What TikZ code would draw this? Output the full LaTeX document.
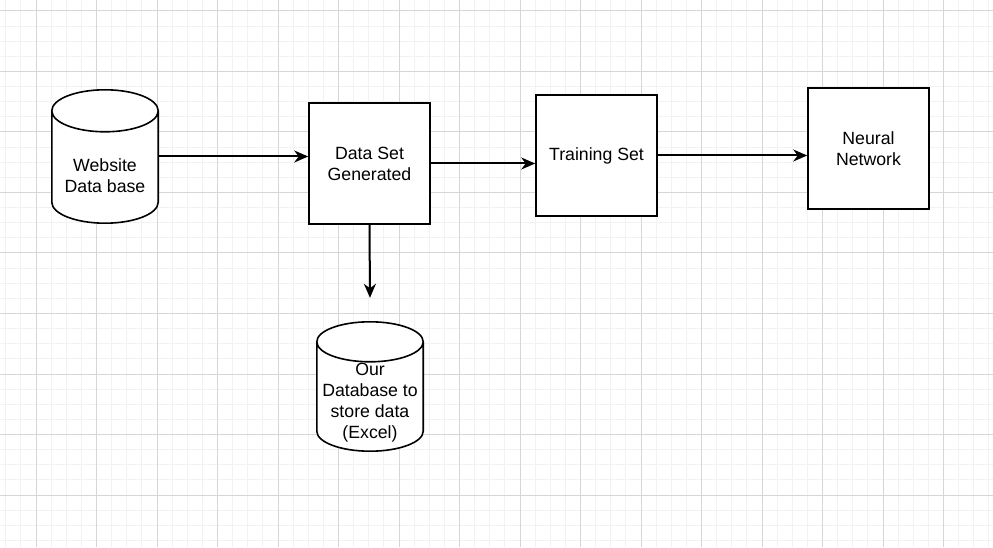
\documentclass[tikz,border=0pt]{standalone}
\usepackage{fontspec}
\setmainfont{Liberation Sans}
\usetikzlibrary{arrows.meta,calc}
\definecolor{gridminor}{RGB}{242,242,242}
\definecolor{gridmajor}{RGB}{214,214,214}
\newcommand\drawcylinder[2]{%
  \draw[shapeline, fill=white] let \p1=(#1.north west), \p2=(#1.south east), \n1={(\x2-\x1)/2} in
    (\x1,\y1-#2) -- (\x1,\y2+#2) arc[start angle=180,end angle=360,x radius=\n1,y radius=#2]
    -- (\x2,\y1-#2) arc[start angle=0,end angle=180,x radius=\n1,y radius=#2] -- cycle
    (\x1,\y1-#2) arc[start angle=180,end angle=360,x radius=\n1,y radius=#2];
}
\begin{document}
\begin{tikzpicture}[x=1pt,y=1pt,
  shapeline/.style={draw=black, line width=1.6pt},
  txt/.style={font=\fontsize{17.7}{21}\selectfont, align=center, inner sep=0pt, text=black},
  box/.style={shapeline, fill=white, minimum width=121pt, minimum height=121pt, inner sep=0pt,
              font=\fontsize{17.7}{21}\selectfont, align=center},
  cylbox/.style={minimum width=106pt, inner sep=0pt},
  flow/.style={draw=black, line width=2pt, -{Stealth[length=14pt,width=12pt,inset=4.5pt]}}]
% canvas and grid
\fill[white] (0,0) rectangle (993,547);
\useasboundingbox (0,0) rectangle (993,547);
\foreach \i in {0,...,65} {\draw[gridminor, line width=1pt] (5.75+15.125*\i,0) -- (5.75+15.125*\i,547);}
\foreach \j in {0,...,35} {\draw[gridminor, line width=1pt] (0,536-15.125*\j) -- (993,536-15.125*\j);}
\foreach \i in {0,...,15} {\draw[gridmajor, line width=1pt] (36+60.5*\i,0) -- (36+60.5*\i,547);}
\foreach \j in {0,...,8} {\draw[gridmajor, line width=1pt] (0,536-60.5*\j) -- (993,536-60.5*\j);}
% cylinders (outline nodes) and their texts
\node[cylbox, minimum height=133pt] (web) at (105,390.5) {};
\drawcylinder{web}{21pt}
\node[txt] (webt) at (105,371.5) {Website\\Data base};
\node[cylbox, minimum height=129pt] (xl) at (370,160.5) {};
\drawcylinder{xl}{20pt}
\node[txt] (xlt) at (370,144.5) {Our\\Database to\\store data\\(Excel)};
% boxes
\node[box] (ds) at (369.5,383.5) {Data Set\\Generated};
\node[box] (tr) at (596.5,391.5) {Training Set};
\node[box] (nn) at (868.5,398.5) {Neural\\Network};
% connectors
\coordinate (xltop) at ([yshift=24pt]xl.north);
\draw[flow] (web.east) -- (web.east -| ds.west);
\draw[flow] (ds.east) -- (ds.east -| tr.west);
\draw[flow] (tr.east) -- (tr.east -| nn.west);
\draw[flow] (ds.south) -- (xltop);
\end{tikzpicture}
\end{document}
